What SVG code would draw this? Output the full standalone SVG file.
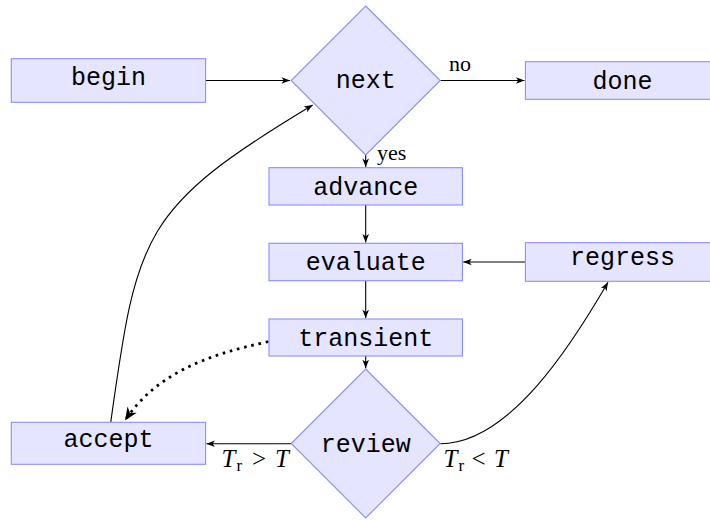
<svg xmlns="http://www.w3.org/2000/svg" width="710" height="520" viewBox="0 0 710 520">
  <style>
    .box { fill: #e5e5ff; stroke: #8c8cff; stroke-width: 1.1; }
    .lbl { font-family: "Liberation Mono", "DejaVu Sans Mono", monospace; font-size: 25px; fill: #000; text-anchor: middle; }
    .note { font-family: "Liberation Serif", "DejaVu Serif", serif; font-size: 22px; fill: #000; }
    .math { font-family: "Liberation Serif", "DejaVu Serif", serif; font-size: 25px; fill: #000; }
    .edge { fill: none; stroke: #000; stroke-width: 1.1; }
    .dots { fill: none; stroke: #000; stroke-width: 2.8; stroke-dasharray: 2.6 4.8; }
  </style>
  <defs>
    <marker id="arrow" viewBox="-9 -4 10 8" refX="0" refY="0" markerWidth="10" markerHeight="8" markerUnits="userSpaceOnUse" orient="auto">
      <path d="M0,0 L-8.5,-3.3 L-6.3,0 L-8.5,3.3 Z" fill="#000"/>
    </marker>
    <marker id="arrowBig" viewBox="-14 -7 15 14" refX="0" refY="0" markerWidth="15" markerHeight="14" markerUnits="userSpaceOnUse" orient="auto">
      <path d="M0,0 L-13,-5.5 L-9,0 L-13,5.5 Z" fill="#000"/>
    </marker>
  </defs>

  <!-- connectors -->
  <g id="connectors">
    <path class="edge" d="M205.6,80.5 H290" marker-end="url(#arrow)"/>
    <path class="edge" d="M440.2,80.5 H524.5" marker-end="url(#arrow)"/>
    <path class="edge" d="M365.7,155 V167" marker-end="url(#arrow)"/>
    <path class="edge" d="M365.7,205 V242.5" marker-end="url(#arrow)"/>
    <path class="edge" d="M365.7,280.7 V318.3" marker-end="url(#arrow)"/>
    <path class="edge" d="M525.4,262 H463.2" marker-end="url(#arrow)"/>
    <path class="edge" d="M365.7,356 V368.3" marker-end="url(#arrow)"/>
    <path class="edge" d="M291.2,443.7 H206.4" marker-end="url(#arrow)"/>
    <path class="edge" d="M440.2,443.7 C510,443.7 573,342.6 608,282.3" marker-end="url(#arrow)"/>
    <path class="edge" d="M110.7,422.3 C137.1,233.6 141.3,208 312.7,105" marker-end="url(#arrow)"/>
    <path class="dots" d="M268.3,341.7 C205,355 155,375 125,420.5" marker-end="url(#arrowBig)"/>

    <text class="note" x="449" y="71">no</text>
    <text class="note" x="377" y="160">yes</text>
    <text class="math" y="467"><tspan x="221.5" font-style="italic">T</tspan><tspan x="236.5" dy="4" font-size="17">r</tspan><tspan x="252" dy="-4">&gt;</tspan><tspan x="275" font-style="italic">T</tspan></text>
    <text class="math" y="467"><tspan x="443.5" font-style="italic">T</tspan><tspan x="458.5" dy="4" font-size="17">r</tspan><tspan x="471.5" dy="-4">&lt;</tspan><tspan x="494" font-style="italic">T</tspan></text>
  </g>

  <g id="begin">
    <rect class="box" x="11.3" y="58.7" width="194.3" height="43.6"/>
    <text class="lbl" x="108.5" y="85">begin</text>
  </g>
  <g id="next">
    <polygon class="box" points="365.7,6 440.2,80.5 365.7,155 291.2,80.5"/>
    <text class="lbl" x="365.7" y="88">next</text>
  </g>
  <g id="done">
    <rect class="box" x="525.4" y="61.7" width="194.3" height="37.6"/>
    <text class="lbl" x="622.5" y="88.5">done</text>
  </g>
  <g id="advance">
    <rect class="box" x="269" y="167.7" width="193.4" height="37.3"/>
    <text class="lbl" x="365.7" y="194.5">advance</text>
  </g>
  <g id="evaluate">
    <rect class="box" x="269" y="243.3" width="193.4" height="37.4"/>
    <text class="lbl" x="365.7" y="270">evaluate</text>
  </g>
  <g id="regress">
    <rect class="box" x="525.4" y="242.7" width="194.3" height="38.6"/>
    <text class="lbl" x="622.5" y="265">regress</text>
  </g>
  <g id="transient">
    <rect class="box" x="269" y="319" width="193.4" height="37"/>
    <text class="lbl" x="365.7" y="345.5">transient</text>
  </g>
  <g id="review">
    <polygon class="box" points="365.7,369 440.2,443.5 365.7,518 291.2,443.5"/>
    <text class="lbl" x="365.7" y="451.5">review</text>
  </g>
  <g id="accept">
    <rect class="box" x="11.3" y="422.3" width="194.3" height="42"/>
    <text class="lbl" x="108.5" y="447">accept</text>
  </g>
</svg>
